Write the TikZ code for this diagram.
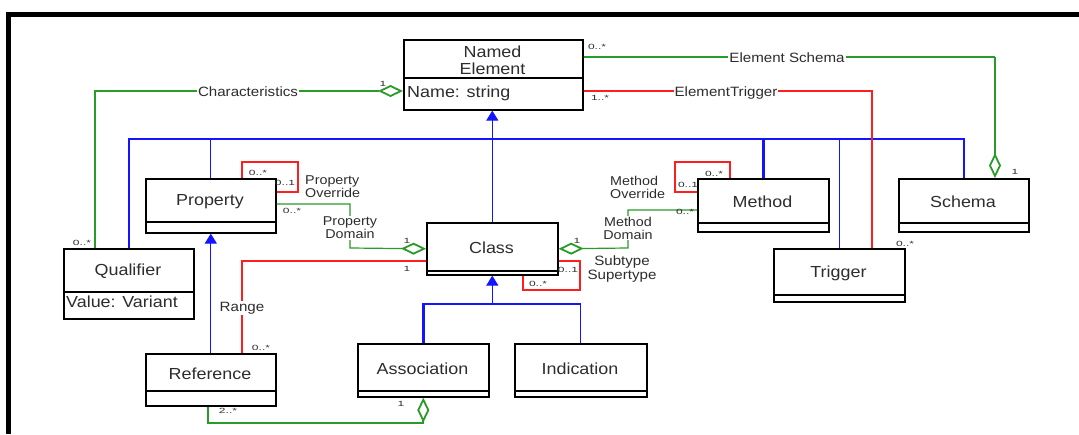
\documentclass[tikz,border=0pt]{standalone}
\usepackage{fontspec}
\setmainfont{Liberation Sans}[FakeStretch=1.12]
\newfontfamily\multfont{Liberation Sans}[FakeStretch=1.6]
\usetikzlibrary{arrows.meta}

\definecolor{umlblue}{RGB}{20,20,255}
\definecolor{umlred}{RGB}{255,30,30}
\definecolor{umlgreen}{RGB}{40,155,40}
\definecolor{txt}{RGB}{45,45,45}

\tikzset{
  classbox/.style={draw=black, line width=1.6pt, fill=white, inner sep=0pt, anchor=north west},
  cname/.style={font=\fontsize{16}{17}\selectfont, text=txt, align=center, inner sep=0pt},
  attr/.style={font=\fontsize{16}{17}\selectfont, text=txt, anchor=west, inner sep=0pt},
  lbl/.style={font=\fontsize{13.5}{14}\selectfont, text=txt, fill=white, inner sep=1pt, align=center},
  slbl/.style={font=\fontsize{12.8}{13}\selectfont, text=txt, fill=white, inner sep=1pt, align=center},
  mult/.style={font=\multfont\fontsize{7.5}{8}\selectfont, text=txt, inner sep=0pt},
  genthick/.style={draw=umlblue, line width=2.4pt},
  genthin/.style={draw=umlblue, line width=1.2pt},
  gentip/.style={-{Triangle[length=10pt,width=12pt]}},
  assocg/.style={draw=umlgreen, line width=1.2pt},
  assocgT/.style={draw=umlgreen, line width=2.2pt},
  assocr/.style={draw=umlred, line width=1.2pt},
  aggr/.style={-{Diamond[open,length=25pt,width=12pt,line width=1.8pt]}},
}

% class box: name, left, top, right, bottom, divider, title
\newcommand\umlclass[7]{%
  \node[classbox, minimum width={(#4-#2)*1pt}, minimum height={(#5-#3)*1pt}] (#1) at (#2,#3) {};
  \draw[line width=1.2pt] (#1.west |- 0,#6) -- (#1.east |- 0,#6);
  \node[cname] (#1-t) at ({(#2+#4)/2},{(#3+#6)/2+1.5}) {#7};
}

\begin{document}
\begin{tikzpicture}[x=1pt,y=-1pt]
\useasboundingbox (0,0) rectangle (1079,434);
\draw[line width=5pt] (1079,14.5) -- (8.5,14.5) -- (8.5,434);

% classes
\umlclass{ne}{403}{39}{582}{109}{78}{Named\\Element}
\node[attr] (ne-a) at (407,93) {Name: string};
\umlclass{prop}{145}{178}{275}{232}{222}{Property}
\umlclass{qual}{63}{248}{193}{318}{292}{Qualifier}
\node[attr] (qual-a) at (66,302) {Value: Variant};
\umlclass{cls}{426}{222}{557}{274}{271}{Class}
\umlclass{meth}{697}{178}{828}{231}{223}{Method}
\umlclass{sch}{898}{178}{1028}{231}{223}{Schema}
\umlclass{trig}{773}{248}{904}{301}{295}{Trigger}
\umlclass{ref}{145}{353}{275}{405}{391}{Reference}
\umlclass{assoc}{357}{343}{488}{396}{391}{Association}
\umlclass{ind}{514}{343}{646}{396}{391}{Indication}

% inheritance
\coordinate (bus) at (0,139);
\coordinate (tj) at (0,304);
\draw[genthin,gentip] (cls.north) -- (cls.north |- ne.south);
\draw[genthick] (qual.north) -- (qual.north |- bus) -- (sch.north |- bus) -- (sch.north);
\draw[genthin] (prop.north) -- (prop.north |- bus);
\draw[genthick] (meth.north) -- (meth.north |- bus);
\draw[genthin] (trig.north) -- (trig.north |- bus);
\draw[genthin,gentip] (ref.north) -- (prop.south);
\draw[genthick] (assoc.north) |- (cls.south |- tj);
\draw[genthin] (ind.north) |- (cls.south |- tj);
\draw[genthin,gentip] (cls.south |- tj) -- (cls.south);

% associations
\coordinate (esbend) at (995,57);
\draw[assocg,aggr] (qual.north -| 95,0) |- (ne.west |- 0,91);
\draw[assocg] (ne.east |- 0,57) -- (esbend);
\draw[assocgT,aggr] (esbend) -- (sch.north -| 995,0);
\draw[assocr] (ne.east |- 0,91) -| (trig.north -| 872,0);
\draw[assocr] (prop.north -| 242,0) |- (298,162) |- (prop.east |- 0,192);
\draw[assocr] (meth.west |- 0,192) -| (675,162) -| (meth.north -| 730,0);
\draw[assocg,aggr] (prop.east |- 0,204) -| (350,248) -- (cls.west);
\draw[assocg,aggr] (meth.west |- 0,210) -| (628,248) -- (cls.east);
\draw[assocr] (cls.west |- 0,261) -| (ref.north -| 242,0);
\draw[assocr] (cls.east |- 0,261) -| (580,290) -| (cls.south -| 523,0);
\draw[assocgT,aggr] (ref.south -| 208,0) |- ([yshift=-25pt]assoc.south) -- (assoc.south);

% association names
\node[lbl] (lchar) at (248,92) {Characteristics};
\node[lbl] (les) at (787,58) {Element Schema};
\node[lbl] (let) at (726,93) {ElementTrigger};
\node[slbl, fill=none, align=left, anchor=west] (lpo) at (304,187) {Property\\Override};
\node[slbl] (lpd) at (350,228) {Property\\Domain};
\node[slbl, fill=none, align=left, anchor=west] (lmo) at (609,187) {Method\\Override};
\node[slbl] (lmd) at (628,228) {Method\\Domain};
\node[lbl, fill=none] (lst) at (622,269) {Subtype\\Supertype};
\node[lbl] (lrange) at (242,308) {Range};

% multiplicities
\node[mult] at (383,84) {1};
\node[mult] at (82,243) {0..*};
\node[mult] at (597,47) {0..*};
\node[mult] at (1015,172) {1};
\node[mult] at (600,98) {1..*};
\node[mult] at (905,244) {0..*};
\node[mult] at (258,173) {0..*};
\node[mult] at (285,183) {0..1};
\node[mult] at (292,211) {0..*};
\node[mult] at (407,241) {1};
\node[mult] at (407,269) {1};
\node[mult] at (261,348) {0..*};
\node[mult] at (688,185) {0..1};
\node[mult] at (714,174) {0..*};
\node[mult] at (685,212) {0..*};
\node[mult] at (577,241) {1};
\node[mult] at (568,270) {0..1};
\node[mult] at (538,284) {0..*};
\node[mult] at (401,404) {1};
\node[mult] at (228,411) {2..*};
\end{tikzpicture}
\end{document}
